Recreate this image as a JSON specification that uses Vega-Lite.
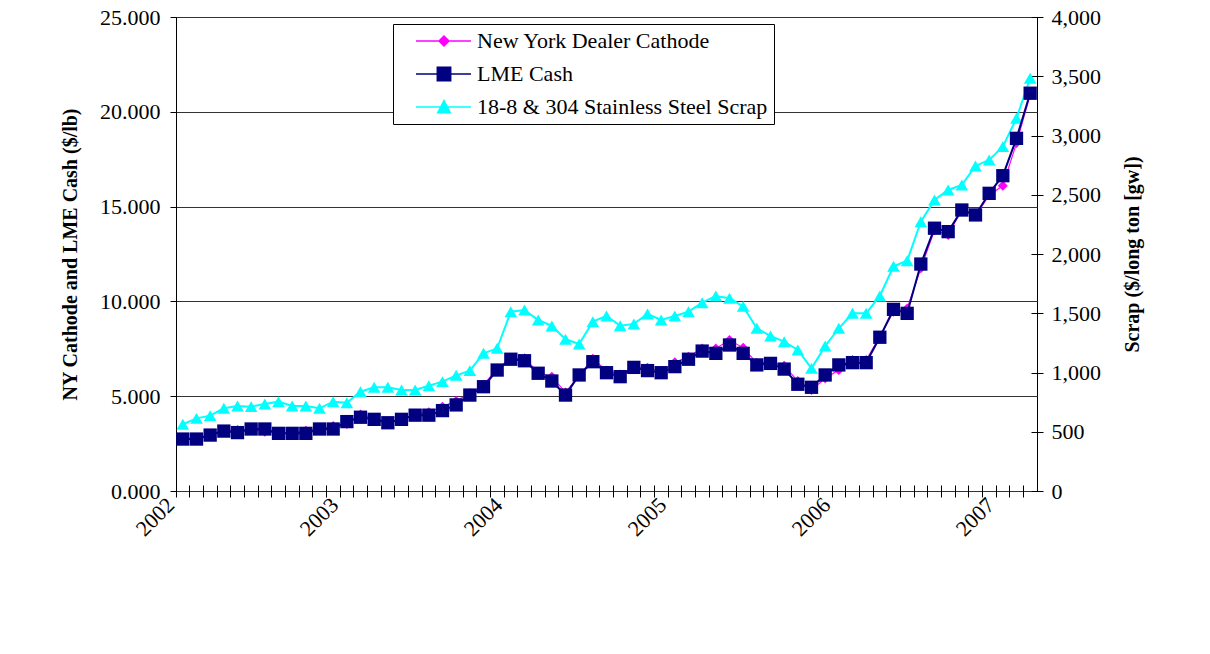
{
  "$schema": "https://vega.github.io/schema/vega-lite/v6.json",
  "width": 861,
  "height": 474,
  "autosize": {"type": "none"},
  "padding": {"left": 176, "top": 17, "right": 173, "bottom": 163},
  "background": "white",
  "config": {
    "view": {"stroke": "black", "strokeWidth": 1},
    "font": "Liberation Serif",
    "axis": {
      "labelFont": "Liberation Serif",
      "titleFont": "Liberation Serif",
      "labelColor": "black",
      "titleColor": "black",
      "tickColor": "black",
      "domainColor": "black",
      "labelFontSize": 22,
      "titleFontSize": 20,
      "titleFontWeight": "bold"
    }
  },
  "data": {
    "values": [
      {"month": "2002-01", "ny": 2.76, "lme": 2.74, "scrap": 563},
      {"month": "2002-02", "ny": 2.76, "lme": 2.74, "scrap": 613},
      {"month": "2002-03", "ny": 2.97, "lme": 2.95, "scrap": 636},
      {"month": "2002-04", "ny": 3.18, "lme": 3.16, "scrap": 698},
      {"month": "2002-05", "ny": 3.22, "lme": 3.08, "scrap": 717},
      {"month": "2002-06", "ny": 3.25, "lme": 3.27, "scrap": 712},
      {"month": "2002-07", "ny": 3.13, "lme": 3.27, "scrap": 734},
      {"month": "2002-08", "ny": 3.06, "lme": 3.04, "scrap": 754},
      {"month": "2002-09", "ny": 3.06, "lme": 3.04, "scrap": 717},
      {"month": "2002-10", "ny": 3.18, "lme": 3.04, "scrap": 717},
      {"month": "2002-11", "ny": 3.28, "lme": 3.27, "scrap": 698},
      {"month": "2002-12", "ny": 3.43, "lme": 3.27, "scrap": 754},
      {"month": "2003-01", "ny": 3.53, "lme": 3.66, "scrap": 745},
      {"month": "2003-02", "ny": 4.04, "lme": 3.89, "scrap": 838},
      {"month": "2003-03", "ny": 3.85, "lme": 3.78, "scrap": 875},
      {"month": "2003-04", "ny": 3.62, "lme": 3.60, "scrap": 875},
      {"month": "2003-05", "ny": 3.80, "lme": 3.78, "scrap": 852},
      {"month": "2003-06", "ny": 4.05, "lme": 4.00, "scrap": 852},
      {"month": "2003-07", "ny": 4.15, "lme": 4.00, "scrap": 889},
      {"month": "2003-08", "ny": 4.45, "lme": 4.24, "scrap": 923},
      {"month": "2003-09", "ny": 4.75, "lme": 4.54, "scrap": 976},
      {"month": "2003-10", "ny": 5.15, "lme": 5.06, "scrap": 1016},
      {"month": "2003-11", "ny": 5.60, "lme": 5.50, "scrap": 1162},
      {"month": "2003-12", "ny": 6.45, "lme": 6.38, "scrap": 1204},
      {"month": "2004-01", "ny": 7.00, "lme": 6.95, "scrap": 1513},
      {"month": "2004-02", "ny": 7.00, "lme": 6.87, "scrap": 1528},
      {"month": "2004-03", "ny": 6.25, "lme": 6.21, "scrap": 1443},
      {"month": "2004-04", "ny": 6.03, "lme": 5.80, "scrap": 1393},
      {"month": "2004-05", "ny": 5.20, "lme": 5.06, "scrap": 1280},
      {"month": "2004-06", "ny": 6.10, "lme": 6.12, "scrap": 1241},
      {"month": "2004-07", "ny": 6.98, "lme": 6.82, "scrap": 1429},
      {"month": "2004-08", "ny": 6.35, "lme": 6.24, "scrap": 1477},
      {"month": "2004-09", "ny": 6.15, "lme": 6.03, "scrap": 1395},
      {"month": "2004-10", "ny": 6.55, "lme": 6.52, "scrap": 1410},
      {"month": "2004-11", "ny": 6.50, "lme": 6.35, "scrap": 1494},
      {"month": "2004-12", "ny": 6.30, "lme": 6.24, "scrap": 1443},
      {"month": "2005-01", "ny": 6.79, "lme": 6.56, "scrap": 1477},
      {"month": "2005-02", "ny": 7.08, "lme": 6.95, "scrap": 1513},
      {"month": "2005-03", "ny": 7.52, "lme": 7.38, "scrap": 1589},
      {"month": "2005-04", "ny": 7.52, "lme": 7.26, "scrap": 1646},
      {"month": "2005-05", "ny": 7.96, "lme": 7.70, "scrap": 1626},
      {"month": "2005-06", "ny": 7.55, "lme": 7.26, "scrap": 1558},
      {"month": "2005-07", "ny": 6.75, "lme": 6.65, "scrap": 1373},
      {"month": "2005-08", "ny": 6.80, "lme": 6.73, "scrap": 1308},
      {"month": "2005-09", "ny": 6.61, "lme": 6.43, "scrap": 1260},
      {"month": "2005-10", "ny": 5.80, "lme": 5.63, "scrap": 1190},
      {"month": "2005-11", "ny": 5.33, "lme": 5.47, "scrap": 1035},
      {"month": "2005-12", "ny": 5.95, "lme": 6.12, "scrap": 1224},
      {"month": "2006-01", "ny": 6.38, "lme": 6.65, "scrap": 1373},
      {"month": "2006-02", "ny": 6.91, "lme": 6.77, "scrap": 1500},
      {"month": "2006-03", "ny": 6.91, "lme": 6.77, "scrap": 1500},
      {"month": "2006-04", "ny": 8.14, "lme": 8.11, "scrap": 1646},
      {"month": "2006-05", "ny": 9.46, "lme": 9.58, "scrap": 1896},
      {"month": "2006-06", "ny": 9.63, "lme": 9.37, "scrap": 1943},
      {"month": "2006-07", "ny": 11.75, "lme": 11.97, "scrap": 2273},
      {"month": "2006-08", "ny": 13.75, "lme": 13.86, "scrap": 2456},
      {"month": "2006-09", "ny": 13.50, "lme": 13.68, "scrap": 2540},
      {"month": "2006-10", "ny": 14.85, "lme": 14.82, "scrap": 2583},
      {"month": "2006-11", "ny": 14.50, "lme": 14.56, "scrap": 2743},
      {"month": "2006-12", "ny": 15.60, "lme": 15.70, "scrap": 2794},
      {"month": "2007-01", "ny": 16.10, "lme": 16.63, "scrap": 2906},
      {"month": "2007-02", "ny": 18.35, "lme": 18.60, "scrap": 3146},
      {"month": "2007-03", "ny": 20.90, "lme": 20.98, "scrap": 3483}
    ]
  },
  "encoding": {
    "x": {
      "field": "month",
      "type": "ordinal",
      "bandPosition": 0.5,
      "scale": {"type": "band", "paddingInner": 0, "paddingOuter": 0},
      "axis": {
        "title": null,
        "bandPosition": 0,
        "offset": -6,
        "tickSize": 12,
        "tickWidth": 1,
        "domain": false,
        "grid": false,
        "labelAngle": -45,
        "labelAlign": "right",
        "labelBaseline": "middle",
        "labelPadding": 4,
        "labelOffset": -12,
        "labelOverlap": false,
        "labelFontSize": 22,
        "labelExpr": "slice(datum.value,5,7)=='01' ? slice(datum.value,0,4) : ''"
      }
    }
  },
  "layer": [
    {
      "encoding": {
        "y": {
          "field": "scrap",
          "type": "quantitative",
          "scale": {"domain": [0, 4000], "nice": false, "zero": true},
          "axis": {
            "orient": "right",
            "title": "Scrap ($/long ton [gw])",
            "titleAngle": -90,
            "titleBaseline": "top",
            "values": [0, 500, 1000, 1500, 2000, 2500, 3000, 3500, 4000],
            "format": ",.0f",
            "grid": false,
            "offset": -6,
            "tickSize": 12,
            "domain": false,
            "labelPadding": 8,
            "titlePadding": 22
          }
        }
      },
      "layer": [
        {"mark": {"type": "line", "color": "#00ffff", "strokeWidth": 2}},
        {"mark": {"type": "point", "shape": "triangle-up", "filled": true, "opacity": 1, "color": "#00ffff", "size": 160}}
      ]
    },
    {
      "layer": [
        {
          "mark": {"type": "line", "color": "#ff00ff", "strokeWidth": 1.2},
          "encoding": {
            "y": {
              "field": "ny",
              "type": "quantitative",
              "scale": {"domain": [0, 25], "nice": false},
              "axis": {
                "orient": "left",
                "title": "NY Cathode and LME Cash ($/lb)",
                "values": [0, 5, 10, 15, 20, 25],
                "format": ".3f",
                "grid": true,
                "gridColor": "#333333",
                "gridOpacity": 1,
                "gridWidth": 1,
                "tickSize": 6,
                "domain": true,
                "labelPadding": 10,
                "titlePadding": 19
              }
            },
            "color": {
              "datum": "ny",
              "scale": {"domain": ["ny", "lme", "scrap"], "range": ["#ff00ff", "#000080", "#00ffff"]},
              "legend": {
                "orient": "none",
                "legendX": 217,
                "legendY": 7,
                "title": null,
                "padding": 6,
                "strokeColor": "black",
                "fillColor": "white",
                "cornerRadius": 0,
                "labelFont": "Liberation Serif",
                "labelFontSize": 22,
                "labelColor": "black",
                "labelOffset": 8,
                "labelLimit": 0,
                "rowPadding": 11,
                "clipHeight": 22,
                "symbolSize": 4624,
                "labelExpr": "datum.value=='ny' ? 'New York Dealer Cathode' : datum.value=='lme' ? 'LME Cash' : '18-8 & 304 Stainless Steel Scrap'",
                "encode": {
                  "symbols": {
                    "update": {
                      "shape": {"signal": "datum.value=='ny' ? 'M-0.529,0H1.088M0.147,0L0.294,-0.147L0.441,0L0.294,0.147Z' : datum.value=='lme' ? 'M-0.529,0H1.088M0.097,-0.197H0.491V0.197H0.097Z' : 'M-0.529,0H1.088M0.294,-0.19L0.479,0.17H0.109Z'"},
                      "fill": {"signal": "datum.value=='ny' ? '#ff00ff' : datum.value=='lme' ? '#000080' : '#00ffff'"},
                      "stroke": {"signal": "datum.value=='ny' ? '#ff00ff' : datum.value=='lme' ? '#000080' : '#00ffff'"},
                      "strokeWidth": {"value": 1.5},
                      "opacity": {"value": 1},
                      "fillOpacity": {"value": 1},
                      "strokeOpacity": {"value": 1},
                      "size": {"value": 4624}
                    }
                  }
                }
              }
            }
          }
        },
        {
          "mark": {"type": "point", "shape": "diamond", "filled": true, "opacity": 1, "color": "#ff00ff", "size": 100},
          "encoding": {
            "y": {
              "field": "ny",
              "type": "quantitative",
              "scale": {"domain": [0, 25], "nice": false},
              "axis": {
                "orient": "left",
                "title": "NY Cathode and LME Cash ($/lb)",
                "values": [0, 5, 10, 15, 20, 25],
                "format": ".3f",
                "grid": true,
                "gridColor": "#333333",
                "gridOpacity": 1,
                "gridWidth": 1,
                "tickSize": 6,
                "domain": true,
                "labelPadding": 10,
                "titlePadding": 19
              }
            }
          }
        },
        {
          "mark": {"type": "line", "color": "#000080", "strokeWidth": 2},
          "encoding": {
            "y": {
              "field": "lme",
              "type": "quantitative",
              "scale": {"domain": [0, 25], "nice": false},
              "axis": {
                "orient": "left",
                "title": "NY Cathode and LME Cash ($/lb)",
                "values": [0, 5, 10, 15, 20, 25],
                "format": ".3f",
                "grid": true,
                "gridColor": "#333333",
                "gridOpacity": 1,
                "gridWidth": 1,
                "tickSize": 6,
                "domain": true,
                "labelPadding": 10,
                "titlePadding": 19
              }
            }
          }
        },
        {
          "mark": {"type": "point", "shape": "square", "filled": true, "opacity": 1, "color": "#000080", "size": 177},
          "encoding": {
            "y": {
              "field": "lme",
              "type": "quantitative",
              "scale": {"domain": [0, 25], "nice": false},
              "axis": {
                "orient": "left",
                "title": "NY Cathode and LME Cash ($/lb)",
                "values": [0, 5, 10, 15, 20, 25],
                "format": ".3f",
                "grid": true,
                "gridColor": "#333333",
                "gridOpacity": 1,
                "gridWidth": 1,
                "tickSize": 6,
                "domain": true,
                "labelPadding": 10,
                "titlePadding": 19
              }
            }
          }
        }
      ]
    }
  ],
  "resolve": {"scale": {"y": "independent"}}
}
